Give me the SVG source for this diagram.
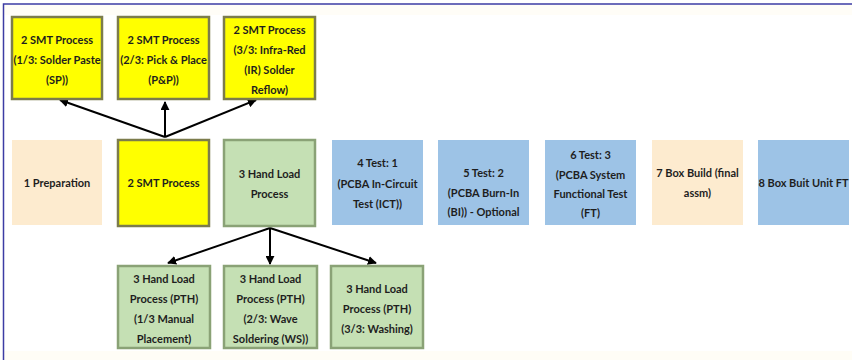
<svg xmlns="http://www.w3.org/2000/svg" width="852" height="360" viewBox="0 0 852 360">
  <defs>
    <marker id="arrow" viewBox="0 0 10 10" refX="9" refY="5" markerWidth="4.5" markerHeight="4.5" orient="auto" markerUnits="strokeWidth">
      <path d="M0,0 L10,5 L0,10 z" fill="#000"/>
    </marker>
    <style>
      .lbl { font-family: Lato, "Liberation Sans", sans-serif; font-size: 11px; font-weight: bold; fill: #1e1e1e; text-anchor: middle; }
      .smt { fill: #ffff00; stroke: #7c7c4c; stroke-width: 2.5; }
      .hand { fill: #c5e0b4; stroke: #8aa276; stroke-width: 2.5; }
      .test { fill: #9dc3e6; }
      .prep { fill: #fdebcf; }
      .link { stroke: #000; stroke-width: 2; fill: none; marker-end: url(#arrow); }
    </style>
  </defs>

  <rect x="0" y="0" width="852" height="360" fill="#ffffff"/>
  <rect x="4" y="5" width="848" height="10" fill="#fffdf7"/>
  <rect x="4" y="351" width="848" height="9" fill="#fffdf6"/>
  <!-- frame -->
  <path d="M3.5,360 V4 H852" fill="none" stroke="#3c3ca4" stroke-width="1.5"/>

  <!-- connectors -->
  <g id="connectors">
    <line class="link" x1="165" y1="137" x2="60" y2="100"/>
    <line class="link" x1="165" y1="137" x2="165" y2="102"/>
    <line class="link" x1="165" y1="137" x2="256" y2="100"/>
    <line class="link" x1="270" y1="228" x2="168" y2="263"/>
    <line class="link" x1="270" y1="228" x2="270" y2="264"/>
    <line class="link" x1="270" y1="228" x2="376" y2="263"/>
  </g>

  <!-- top row: SMT sub-steps -->
  <g id="smt-sp">
    <rect class="smt" x="12" y="17" width="90" height="82"/>
    <text class="lbl" x="57" y="44">2 SMT Process</text>
    <text class="lbl" x="57" y="64">(1/3: Solder Paste</text>
    <text class="lbl" x="57" y="84">(SP))</text>
  </g>
  <g id="smt-pp">
    <rect class="smt" x="118" y="17" width="91" height="82"/>
    <text class="lbl" x="163.5" y="44">2 SMT Process</text>
    <text class="lbl" x="163.5" y="64">(2/3: Pick &amp; Place</text>
    <text class="lbl" x="163.5" y="84">(P&amp;P))</text>
  </g>
  <g id="smt-ir">
    <rect class="smt" x="224" y="17" width="91" height="82"/>
    <text class="lbl" x="269.5" y="34">2 SMT Process</text>
    <text class="lbl" x="269.5" y="54">(3/3: Infra-Red</text>
    <text class="lbl" x="269.5" y="74">(IR) Solder</text>
    <text class="lbl" x="269.5" y="94">Reflow)</text>
  </g>

  <!-- middle row: main process flow -->
  <g id="prep">
    <rect class="prep" x="12" y="140" width="90" height="85"/>
    <text class="lbl" x="57" y="187">1 Preparation</text>
  </g>
  <g id="smt">
    <rect class="smt" x="118" y="140" width="91" height="86"/>
    <text class="lbl" x="163.5" y="187">2 SMT Process</text>
  </g>
  <g id="hand">
    <rect class="hand" x="224" y="140" width="91" height="86"/>
    <text class="lbl" x="269.5" y="178">3 Hand Load</text>
    <text class="lbl" x="269.5" y="198">Process</text>
  </g>
  <g id="test1">
    <rect class="test" x="332" y="140" width="91" height="85"/>
    <text class="lbl" x="377.5" y="167">4 Test: 1</text>
    <text class="lbl" x="377.5" y="188">(PCBA In-Circuit</text>
    <text class="lbl" x="377.5" y="208">Test (ICT))</text>
  </g>
  <g id="test2">
    <rect class="test" x="438" y="140" width="91" height="85"/>
    <text class="lbl" x="483.5" y="177">5 Test: 2</text>
    <text class="lbl" x="483.5" y="197">(PCBA Burn-In</text>
    <text class="lbl" x="483.5" y="216">(BI)) - Optional</text>
  </g>
  <g id="test3">
    <rect class="test" x="545" y="140" width="91" height="85"/>
    <text class="lbl" x="590.5" y="159">6 Test: 3</text>
    <text class="lbl" x="590.5" y="179">(PCBA System</text>
    <text class="lbl" x="590.5" y="198">Functional Test</text>
    <text class="lbl" x="590.5" y="217">(FT)</text>
  </g>
  <g id="boxbuild">
    <rect class="prep" x="652" y="140" width="91" height="85"/>
    <text class="lbl" x="697.5" y="177">7 Box Build (final</text>
    <text class="lbl" x="697.5" y="197">assm)</text>
  </g>
  <g id="boxft">
    <rect class="test" x="758" y="140" width="91" height="85"/>
    <text class="lbl" x="803.5" y="187">8 Box Buit Unit FT</text>
  </g>

  <!-- bottom row: hand load sub-steps -->
  <g id="hand-manual">
    <rect class="hand" x="118" y="266" width="92" height="82"/>
    <text class="lbl" x="164" y="283">3 Hand Load</text>
    <text class="lbl" x="164" y="303">Process (PTH)</text>
    <text class="lbl" x="164" y="323">(1/3 Manual</text>
    <text class="lbl" x="164" y="343">Placement)</text>
  </g>
  <g id="hand-wave">
    <rect class="hand" x="224" y="266" width="93" height="82"/>
    <text class="lbl" x="270.5" y="283">3 Hand Load</text>
    <text class="lbl" x="270.5" y="303">Process (PTH)</text>
    <text class="lbl" x="270.5" y="323">(2/3: Wave</text>
    <text class="lbl" x="270.5" y="343">Soldering (WS))</text>
  </g>
  <g id="hand-wash">
    <rect class="hand" x="331" y="266" width="92" height="82"/>
    <text class="lbl" x="377" y="293">3 Hand Load</text>
    <text class="lbl" x="377" y="313">Process (PTH)</text>
    <text class="lbl" x="377" y="333">(3/3: Washing)</text>
  </g>
</svg>
